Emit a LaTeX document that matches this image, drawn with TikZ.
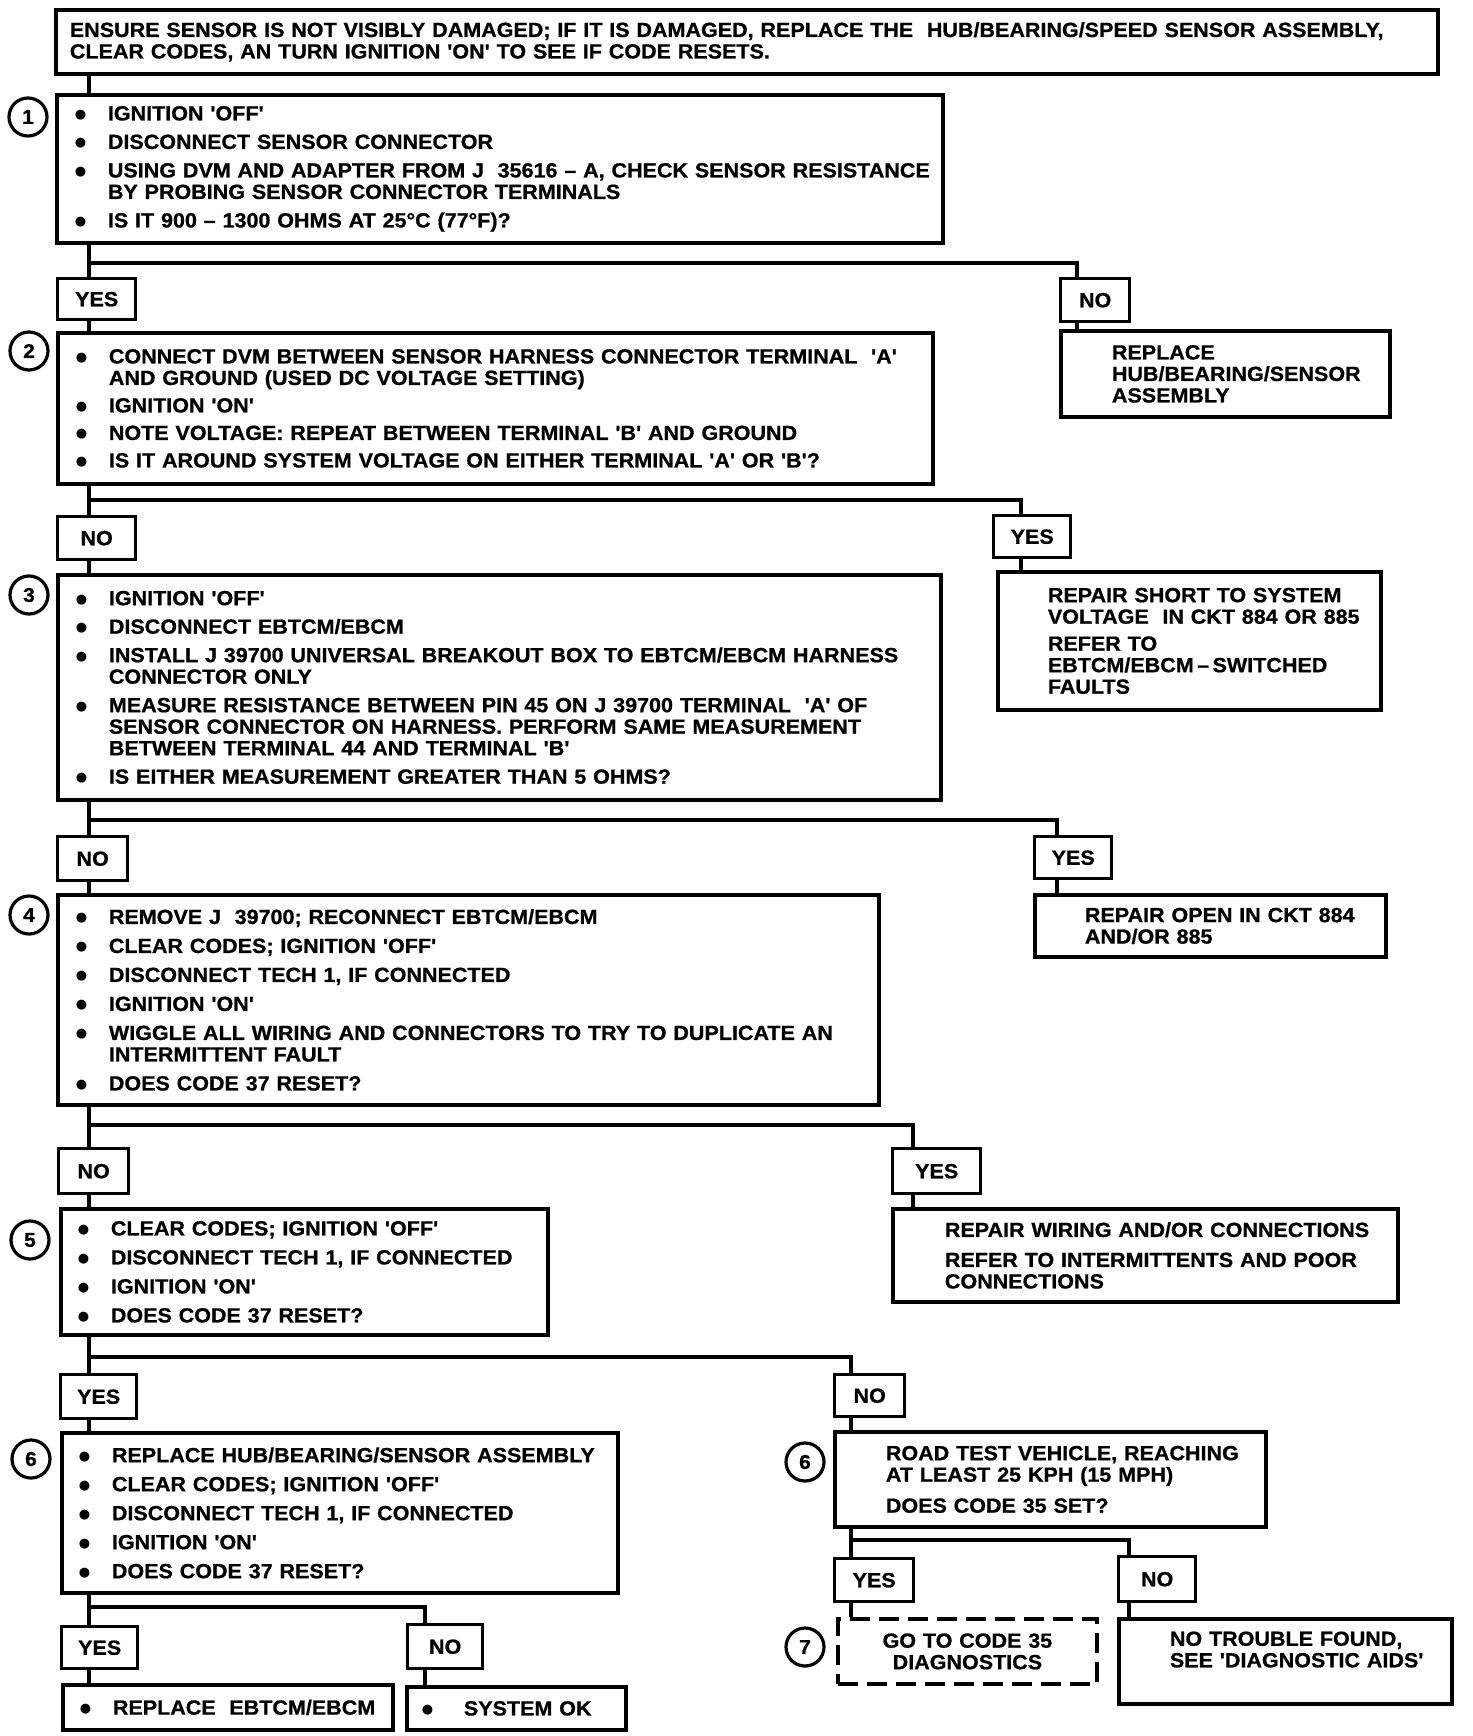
\documentclass[tikz,border=0pt]{standalone}
\usepackage{fontspec}
\newfontfamily\df{Liberation Sans}[FakeStretch=1.05, BoldFeatures={FakeBold=0.8}]
\newfontfamily\symf{DejaVu Sans}
\newcommand\dfont{\df\bfseries\fontsize{20.5}{21.5}\selectfont}
\newcommand\bulg{\raisebox{2pt}{\symf\fontsize{13}{13}\selectfont ●}}
\newcommand\bitem[1]{\mbox{\makebox[32pt][l]{\kern-1pt\bulg}#1}}
\newcommand\bcont[1]{\mbox{\hspace*{32pt}#1}}
\newcommand\pline[1]{\mbox{#1}}
\newcommand\flowbox[8]{%
  \pgfmathsetmacro\fbw{#5-#3-2*#7}%
  \pgfmathsetmacro\fbh{#6-#4}%
  \node[#1, text width=\fbw pt, minimum height=\fbh pt, inner xsep=#7pt] (#2) at (#3,#4) {#8};}
\newcommand\lblbox[6]{%
  \pgfmathsetmacro\fbw{#4-#2}%
  \pgfmathsetmacro\fbh{#5-#3}%
  \node[lbl, minimum width=\fbw pt, minimum height=\fbh pt] (#1) at (#2,#3) {#6};}
\begin{document}
\begin{tikzpicture}[x=1pt,y=-1pt,
  box/.style={draw, line width=3.8pt, anchor=north west, inner ysep=0pt, align=left, font=\dfont},
  dbox/.style={box, dash pattern=on 20pt off 9pt, align=center},
  lbl/.style={draw, line width=3.4pt, anchor=north west, inner sep=0pt, font=\dfont, align=center},
  numc/.style={draw, circle, line width=3.2pt, minimum size=38pt, inner sep=0pt, font=\df\bfseries\fontsize{20}{20}\selectfont},
  conn/.style={line width=4.4pt}]
\path[use as bounding box, fill=white] (0,0) rectangle (1472,1736);

% x positions of vertical connectors and branch junctions
\coordinate (sp) at (89,0);
\coordinate (x1) at (1077,0);
\coordinate (x2) at (1021,0);
\coordinate (x3) at (1057,0);
\coordinate (x4) at (913,0);
\coordinate (x5) at (851,0);
\coordinate (x6) at (425,0);
\coordinate (x7) at (1129,0);
\coordinate (j1) at (89,263);
\coordinate (j2) at (89,500);
\coordinate (j3) at (89,820);
\coordinate (j4) at (89,1125);
\coordinate (j5) at (89,1357);
\coordinate (j6) at (89,1607);
\coordinate (j7) at (851,1540);

% boxes
\flowbox{box}{top}{54}{8}{1436}{72}{14}{\pline{ENSURE SENSOR IS NOT VISIBLY DAMAGED; IF IT IS DAMAGED, REPLACE THE \ HUB/BEARING/SPEED SENSOR ASSEMBLY,}\\
\pline{CLEAR CODES, AN TURN IGNITION 'ON' TO SEE IF CODE RESETS.}}

\flowbox{box}{b1}{55}{93}{941}{241}{19}{\bitem{IGNITION 'OFF'}\\[7pt]
\bitem{DISCONNECT SENSOR CONNECTOR}\\[7pt]
\bitem{USING DVM AND ADAPTER FROM J \ 35616 – A, CHECK SENSOR RESISTANCE}\\
\bcont{BY PROBING SENSOR CONNECTOR TERMINALS}\\[7pt]
\bitem{IS IT 900 – 1300 OHMS AT 25°C (77°F)?}}

\flowbox{box}{r1}{1059}{329}{1388}{415}{51}{\pline{REPLACE}\\ \pline{HUB/BEARING/SENSOR}\\ \pline{ASSEMBLY}}

\flowbox{box}{b2}{56}{331}{931}{482}{19}{\bitem{CONNECT DVM BETWEEN SENSOR HARNESS CONNECTOR TERMINAL \ 'A'}\\
\bcont{AND GROUND (USED DC VOLTAGE SETTING)}\\[6pt]
\bitem{IGNITION 'ON'}\\[6pt]
\bitem{NOTE VOLTAGE: REPEAT BETWEEN TERMINAL 'B' AND GROUND}\\[6pt]
\bitem{IS IT AROUND SYSTEM VOLTAGE ON EITHER TERMINAL 'A' OR 'B'?}}

\flowbox{box}{r2}{996}{570}{1379}{708}{50}{\pline{REPAIR SHORT TO SYSTEM}\\
\pline{VOLTAGE \ IN CKT 884 OR 885}\\[5.5pt]
\pline{REFER TO}\\
\pline{EBTCM/EBCM\,–\,SWITCHED}\\
\pline{FAULTS}}

\flowbox{box}{b3}{56}{573}{939}{798}{19}{\bitem{IGNITION 'OFF'}\\[7pt]
\bitem{DISCONNECT EBTCM/EBCM}\\[7pt]
\bitem{INSTALL J 39700 UNIVERSAL BREAKOUT BOX TO EBTCM/EBCM HARNESS}\\
\bcont{CONNECTOR ONLY}\\[7pt]
\bitem{MEASURE RESISTANCE BETWEEN PIN 45 ON J 39700 TERMINAL \ 'A' OF}\\
\bcont{SENSOR CONNECTOR ON HARNESS. PERFORM SAME MEASUREMENT}\\
\bcont{BETWEEN TERMINAL 44 AND TERMINAL 'B'}\\[7pt]
\bitem{IS EITHER MEASUREMENT GREATER THAN 5 OHMS?}}

\flowbox{box}{r3}{1033}{893}{1384}{955}{50}{\pline{REPAIR OPEN IN CKT 884}\\ \pline{AND/OR 885}}

\flowbox{box}{b4}{56}{893}{877}{1103}{19}{\bitem{REMOVE J \ 39700; RECONNECT EBTCM/EBCM}\\[7.5pt]
\bitem{CLEAR CODES; IGNITION 'OFF'}\\[7.5pt]
\bitem{DISCONNECT TECH 1, IF CONNECTED}\\[7.5pt]
\bitem{IGNITION 'ON'}\\[7.5pt]
\bitem{WIGGLE ALL WIRING AND CONNECTORS TO TRY TO DUPLICATE AN}\\
\bcont{INTERMITTENT FAULT}\\[7.5pt]
\bitem{DOES CODE 37 RESET?}}

\flowbox{box}{r4}{891}{1207}{1396}{1300}{52}{\pline{REPAIR WIRING AND/OR CONNECTIONS}\\[8.5pt]
\pline{REFER TO INTERMITTENTS AND POOR}\\
\pline{CONNECTIONS}}

\flowbox{box}{b5}{59}{1207}{546}{1333}{18}{\bitem{CLEAR CODES; IGNITION 'OFF'}\\[7.5pt]
\bitem{DISCONNECT TECH 1, IF CONNECTED}\\[7.5pt]
\bitem{IGNITION 'ON'}\\[7.5pt]
\bitem{DOES CODE 37 RESET?}}

\flowbox{box}{b6}{60}{1431}{616}{1591}{18}{\bitem{REPLACE HUB/BEARING/SENSOR ASSEMBLY}\\[7.5pt]
\bitem{CLEAR CODES; IGNITION 'OFF'}\\[7.5pt]
\bitem{DISCONNECT TECH 1, IF CONNECTED}\\[7.5pt]
\bitem{IGNITION 'ON'}\\[7.5pt]
\bitem{DOES CODE 37 RESET?}}

\flowbox{box}{b6b}{833}{1430}{1264}{1525}{51}{\pline{ROAD TEST VEHICLE, REACHING}\\
\pline{AT LEAST 25 KPH (15 MPH)}\\[9.5pt]
\pline{DOES CODE 35 SET?}}

\flowbox{box}{ok1}{61}{1683}{391}{1728}{18}{\bitem{REPLACE \ EBTCM/EBCM}}
\flowbox{box}{ok2}{405}{1685}{624}{1728}{16}{\mbox{\makebox[41pt][l]{\kern-1pt\bulg}SYSTEM OK}}

\flowbox{dbox}{b7}{836}{1617}{1095}{1682}{0}{\pline{GO TO CODE 35}\\ \pline{DIAGNOSTICS}}
\flowbox{box}{ntf}{1117}{1617}{1450}{1702}{51}{\pline{NO TROUBLE FOUND,}\\
\pline{SEE 'DIAGNOSTIC AIDS'}\\[2.5pt]\mbox{}}

% yes / no labels
\lblbox{yes1}{56}{277}{134}{318}{YES}
\lblbox{no1}{1059}{277}{1128}{320}{NO}
\lblbox{no2}{56}{515}{134}{558}{NO}
\lblbox{yes2}{992}{514}{1069}{556}{YES}
\lblbox{no3}{56}{835}{126}{879}{NO}
\lblbox{yes3}{1033}{835}{1110}{877}{YES}
\lblbox{no4}{57}{1147}{127}{1192}{NO}
\lblbox{yes4}{891}{1147}{979}{1192}{YES}
\lblbox{yes5}{59}{1373}{135}{1417}{YES}
\lblbox{no5}{833}{1373}{903}{1415}{NO}
\lblbox{yes6}{60}{1625}{136}{1667}{YES}
\lblbox{no6}{406}{1623}{481}{1667}{NO}
\lblbox{yes7}{833}{1557}{912}{1600}{YES}
\lblbox{no7}{1117}{1555}{1194}{1600}{NO}

% step numbers
\node[numc] (c1) at (28,117) {1};
\node[numc] (c2) at (29,351) {2};
\node[numc] (c3) at (29,595) {3};
\node[numc] (c4) at (29,915) {4};
\node[numc] (c5) at (30,1240) {5};
\node[numc] (c6) at (31,1459) {6};
\node[numc] (c6b) at (805,1462) {6};
\node[numc] (c7) at (805,1647) {7};

% connectors
\draw[conn] (top.south -| sp) -- (b1.north -| sp);
\draw[conn] (b1.south -| sp) -- (yes1.north -| sp);
\draw[conn] (j1) -| (no1.north -| x1);
\draw[conn] (yes1.south -| sp) -- (b2.north -| sp);
\draw[conn] (no1.south -| x1) -- (r1.north -| x1);
\draw[conn] (b2.south -| sp) -- (no2.north -| sp);
\draw[conn] (j2) -| (yes2.north -| x2);
\draw[conn] (no2.south -| sp) -- (b3.north -| sp);
\draw[conn] (yes2.south -| x2) -- (r2.north -| x2);
\draw[conn] (b3.south -| sp) -- (no3.north -| sp);
\draw[conn] (j3) -| (yes3.north -| x3);
\draw[conn] (no3.south -| sp) -- (b4.north -| sp);
\draw[conn] (yes3.south -| x3) -- (r3.north -| x3);
\draw[conn] (b4.south -| sp) -- (no4.north -| sp);
\draw[conn] (j4) -| (yes4.north -| x4);
\draw[conn] (no4.south -| sp) -- (b5.north -| sp);
\draw[conn] (yes4.south -| x4) -- (r4.north -| x4);
\draw[conn] (b5.south -| sp) -- (yes5.north -| sp);
\draw[conn] (j5) -| (no5.north -| x5);
\draw[conn] (yes5.south -| sp) -- (b6.north -| sp);
\draw[conn] (no5.south -| x5) -- (b6b.north -| x5);
\draw[conn] (b6.south -| sp) -- (yes6.north -| sp);
\draw[conn] (j6) -| (no6.north -| x6);
\draw[conn] (yes6.south -| sp) -- (ok1.north -| sp);
\draw[conn] (no6.south -| x6) -- (ok2.north -| x6);
\draw[conn] (b6b.south -| x5) -- (yes7.north -| x5);
\draw[conn] (j7) -| (no7.north -| x7);
\draw[conn] (yes7.south -| x5) -- (b7.north -| x5);
\draw[conn] (no7.south -| x7) -- (ntf.north -| x7);
\end{tikzpicture}
\end{document}
